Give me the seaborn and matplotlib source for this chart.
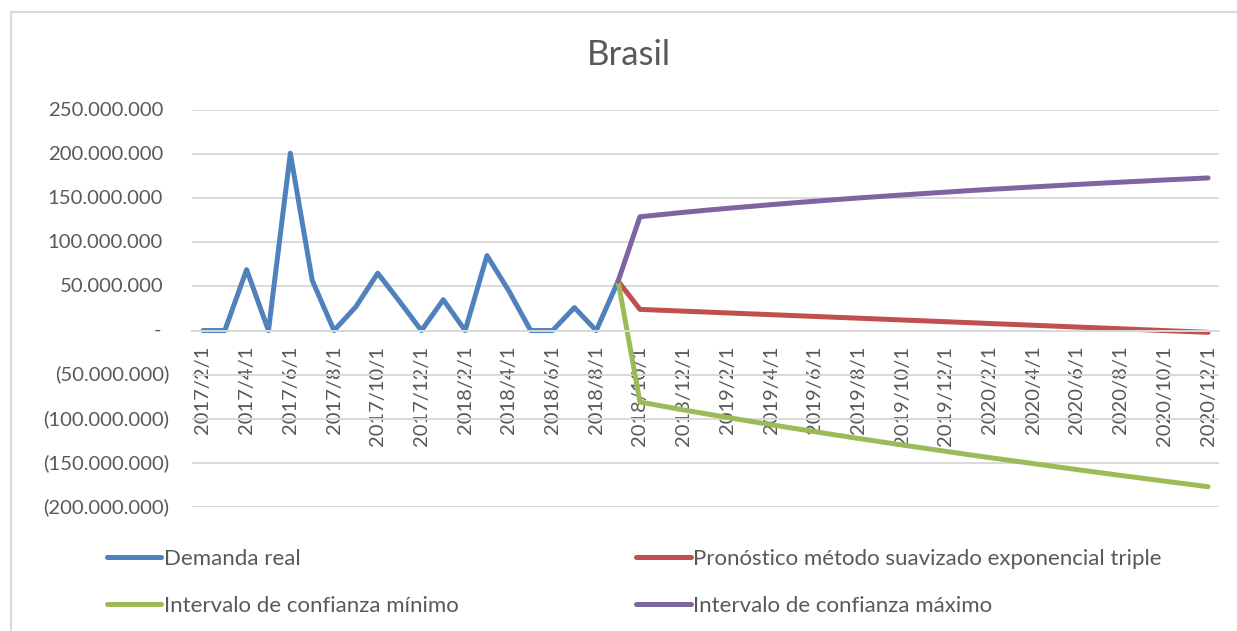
import numpy as np
import pandas as pd
import matplotlib
matplotlib.use("Agg")
import matplotlib.pyplot as plt
from matplotlib.lines import Line2D
from matplotlib.ticker import FixedLocator
import seaborn as sns

# ---- data (millions) ----
meses = [d.strftime("%Y/%-m/%-d") for d in pd.date_range("2017-02-01", "2020-12-01", freq="MS")]

demanda_real = [0, 0, 69, 0, 201, 57, 0, 27, 65, 33, 0, 35, 0, 85, 45, 0, 0, 26, 0, 56]

# forecast series start at the last observed month (2018/9/1)
pronostico = [56, 24, 23, 22, 21, 20, 19, 18, 17, 16, 15, 14, 13, 12, 11, 10,
              9, 8, 7, 6, 5, 4, 3, 2, 1, 0, -1, -2]
ic_minimo = [56, -81, -85.5, -90, -94.3, -98.5, -102.6, -106.7, -110.7, -114.6,
             -118.5, -122.3, -126, -129.7, -133.3, -136.9, -140.5, -144, -147.4,
             -150.8, -154.2, -157.6, -160.9, -164.2, -167.4, -170.7, -173.8, -177]
ic_maximo = [56, 129, 131.5, 134, 136.3, 138.5, 140.6, 142.7, 144.7, 146.6,
             148.5, 150.3, 152, 153.7, 155.3, 156.9, 158.5, 160, 161.4, 162.8,
             164.2, 165.6, 166.9, 168.2, 169.4, 170.7, 171.8, 173]

series = ["Demanda real",
          "Pronóstico método suavizado exponencial triple",
          "Intervalo de confianza mínimo",
          "Intervalo de confianza máximo"]
colores = ["#4f81bd", "#c0504d", "#9bbb59", "#8064a2"]

inicio_pron = len(demanda_real) - 1
rows = []
for i, v in enumerate(demanda_real):
    rows.append((i, v * 1e6, series[0]))
for nombre, vals in zip(series[1:], [pronostico, ic_minimo, ic_maximo]):
    for j, v in enumerate(vals):
        rows.append((inicio_pron + j, v * 1e6, nombre))
df = pd.DataFrame(rows, columns=["pos", "valor", "serie"])

# ---- figure ----
sns.set_style("white")
plt.rcParams["font.family"] = ["Lato", "DejaVu Sans"]
W, H = 1237, 631
fig = plt.figure(figsize=(W / 100, H / 100), dpi=100)
ax = fig.add_axes([192 / W, 1 - 507 / H, 1027 / W, 397 / H])

sns.lineplot(data=df, x="pos", y="valor", hue="serie", hue_order=series,
             palette=colores, estimator=None, sort=False, linewidth=3.6,
             solid_capstyle="round", solid_joinstyle="round", legend=False, ax=ax)

ax.set_xlim(-0.5, len(meses) - 0.5)
ax.set_ylim(-200e6, 250e6)
ax.set_xlabel("")
ax.set_ylabel("")

grid_c = "#d9d9d9"
texto_c = "#595959"
yticks = np.arange(-200e6, 250e6 + 1, 50e6)
ax.yaxis.set_major_locator(FixedLocator(yticks))
ax.yaxis.grid(True, color=grid_c, linewidth=1.4)
ax.xaxis.grid(False)
ax.set_axisbelow(True)
ax.tick_params(axis="y", length=0, labelleft=False)

for s in ["left", "right", "top"]:
    ax.spines[s].set_visible(False)
ax.spines["bottom"].set_position(("data", 0))
ax.spines["bottom"].set_color(grid_c)
ax.spines["bottom"].set_linewidth(1.4)

# category labels every two months, tick marks at category boundaries
ax.xaxis.set_major_locator(FixedLocator(np.arange(0, len(meses), 2)))
ax.set_xticklabels(meses[::2], rotation=90, color=texto_c, fontsize=14.5)
ax.xaxis.set_minor_locator(FixedLocator(np.arange(-0.5, len(meses) - 1, 2)))
ax.tick_params(axis="x", which="major", length=0, pad=11)
ax.tick_params(axis="x", which="minor", length=5, width=1.4, color=grid_c)

# accounting-style value labels
trans = ax.get_yaxis_transform()
for v in yticks:
    if v > 0:
        txt, xr = f"{v:,.0f}".replace(",", "."), (163 - 192) / 1027
    elif v < 0:
        txt, xr = "(" + f"{-v:,.0f}".replace(",", ".") + ")", (169 - 192) / 1027
    else:
        txt, xr = "-", (161 - 192) / 1027
    ax.text(xr, v, txt, transform=trans, ha="right", va="center",
            fontsize=14.6, color=texto_c)

fig.text(629 / W, 1 - 55 / H, "Brasil", ha="center", va="center",
         fontsize=25, color=texto_c)

handles = [Line2D([], [], color=c, linewidth=3.6, solid_capstyle="round") for c in colores]
orden = [0, 2, 1, 3]
fig.legend([handles[i] for i in orden], [series[i] for i in orden],
           ncol=2, loc="upper left", bbox_to_anchor=(107 / W, 1 - 549 / H),
           frameon=False, fontsize=16.0, labelcolor=texto_c, handlelength=2.45,
           handletextpad=0.1, columnspacing=8.0, labelspacing=1.2, borderpad=0,
           borderaxespad=0)

# light chart border (left and top edges)
fig.add_artist(Line2D([11 / W, 11 / W], [0, 1 - 12 / H], transform=fig.transFigure,
                      color=grid_c, linewidth=1.5))
fig.add_artist(Line2D([11 / W, 1], [1 - 12 / H, 1 - 12 / H], transform=fig.transFigure,
                      color=grid_c, linewidth=1.5))

fig.savefig("out.png", dpi=100, facecolor="white")
